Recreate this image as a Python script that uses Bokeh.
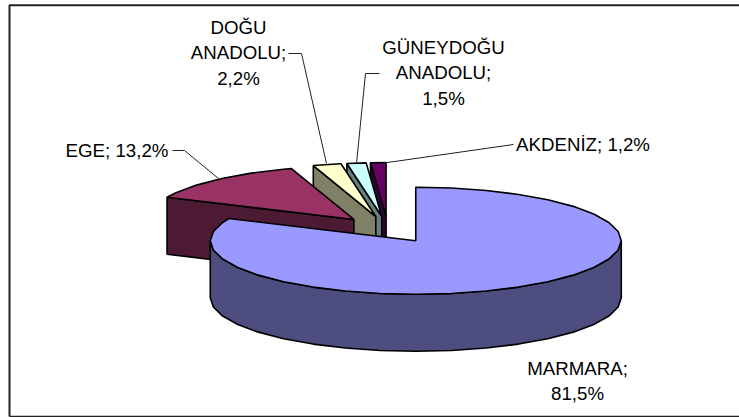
import numpy as np
from bokeh.plotting import figure
from bokeh.models import Range1d
from bokeh.core.properties import value
from bokeh.embed import file_html
from bokeh.resources import INLINE

# --- data ---
regions = ["MARMARA", "EGE", "DOĞU ANADOLU", "GÜNEYDOĞU ANADOLU", "AKDENİZ"]
shares = [81.5, 13.2, 2.2, 1.5, 1.2]
top_colors = ["#9999FF", "#993366", "#FFFFCC", "#CCFFFF", "#660066"]
side_colors = ["#4D4D80", "#4D1A33", "#808066", "#668080", "#330033"]
label_lines = [
    ["MARMARA;", "81,5%"],
    ["EGE; 13,2%"],
    ["DOĞU", "ANADOLU;", "2,2%"],
    ["GÜNEYDOĞU", "ANADOLU;", "1,5%"],
    ["AKDENİZ; 1,2%"],
]
label_x = [577, 116.5, 238, 443, 582.5]
label_y = [367.5, 149.5, 26.5, 46.5, 143.5]
line_step = 25.7
leaders_x = [[], [172, 184, 218], [288, 301, 326], [379, 365, 356], [513, 380]]
leaders_y = [[], [150, 150, 178], [53, 53, 163], [73, 73, 163], [144, 163]]

# --- projection of the tilted pie ---
W, H = 739, 417
CX, CY, RX, RY = 387.5, 229.0, 205.5, 53.5
EXPLODE, DEPTH = 0.25, 57.0
FACET = np.radians(10)

p = figure(width=W, height=H, x_range=Range1d(0, W), y_range=Range1d(H, 0),
           toolbar_location=None, output_backend="svg", min_border=0,
           outline_line_color=None, background_fill_color="white",
           styles={"position": "absolute", "left": "0px", "top": "0px"})
p.axis.visible = False
p.grid.visible = False

# frame (open at the right)
p.line([W, 9, 9], [4.8, 4.8, 416], line_color="#222222", line_width=2)
p.line([9, W], [416, 416], line_color="#222222", line_width=1.5)

fractions = np.array(shares) / sum(shares)
stops = np.concatenate([[0], np.cumsum(fractions)]) * 2 * np.pi


def pt(a, r=1.0):
    return r * RX * np.sin(a), -r * RY * np.cos(a)


def arc(a0, a1):
    k0, k1 = int(np.ceil(a0 / FACET + 1e-9)), int(np.floor(a1 / FACET - 1e-9))
    return np.r_[a0, np.arange(k0, k1 + 1) * FACET, a1]


slices = []
for i in range(len(shares)):
    a0, a1 = stops[i], stops[i + 1]
    ox, oy = pt((a0 + a1) / 2, EXPLODE)
    slices.append((i, a0, a1, CX + ox, CY + oy))

lw = 1.6
# back to front: small slices from the right, then EGE, then MARMARA
for i, a0, a1, cx, cy in reversed(slices):
    ax, ay = pt(arc(a0, a1))
    if i == 0:
        fx, fy = pt(arc(np.pi / 2, 3 * np.pi / 2))
        p.patch(np.r_[cx + fx, (cx + fx)[::-1]], np.r_[cy + fy, (cy + fy)[::-1] + DEPTH],
                fill_color=side_colors[i], line_color="black", line_width=lw)
    else:
        ex, ey = pt(a0)
        p.patch([cx, cx + ex, cx + ex, cx], [cy, cy + ey, cy + ey + DEPTH, cy + DEPTH],
                fill_color=side_colors[i], line_color="black", line_width=lw)
    p.patch(np.r_[cx, cx + ax], np.r_[cy, cy + ay],
            fill_color=top_colors[i], line_color="black", line_width=lw)

# leaders
for xs, ys in zip(leaders_x, leaders_y):
    if xs:
        p.line(xs, ys, line_color="#222222", line_width=1)

# labels
for lines, x, y in zip(label_lines, label_x, label_y):
    for k, t in enumerate(lines):
        p.text([x], [y + k * line_step], text=[t], text_font=value("Liberation Sans"),
               text_font_size="18.7px", text_align="center", text_baseline="alphabetic",
               text_color="black")

open("out.html", "w").write(file_html(p, INLINE))
